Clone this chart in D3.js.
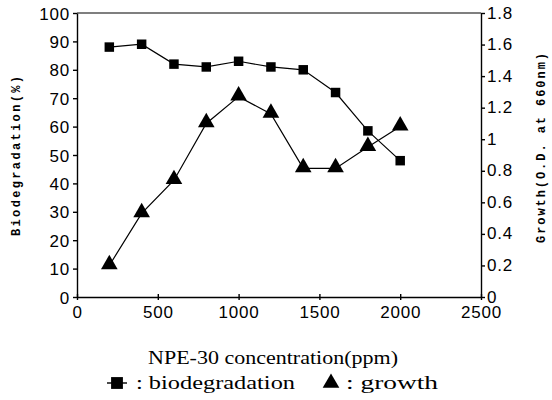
<!DOCTYPE html>
<html><head><meta charset="utf-8">
<script src="https://cdn.jsdelivr.net/npm/d3@7"></script>
<style>
body{margin:0;background:#fff}
.serif{font-family:"Liberation Serif","Times New Roman",serif}
.mono{font-family:"Liberation Mono","DejaVu Sans Mono",monospace;font-weight:bold}
.sans{font-family:"Liberation Sans",Arial,sans-serif}
</style>
</head><body>
<svg id="c" width="552" height="400"></svg>
<script>
const concentrations = [200,400,600,800,1000,1200,1400,1600,1800,2000];
const biodegradation = [88,89,82,81,83,81,80,72,58.5,48];
const growth = [0.20,0.53,0.74,1.10,1.27,1.16,0.815,0.815,0.95,1.08];
const xTicks = [0,500,1000,1500,2000,2500];
const yLeftTicks = [0,10,20,30,40,50,60,70,80,90,100];
const yRightTicks = [0,0.2,0.4,0.6,0.8,1,1.2,1.4,1.6,1.8];

const svg = d3.select("#c");
const L=77,R=481,T=13,B=297;
const x = d3.scaleLinear().domain([0,2500]).range([L,R]);
const yL = d3.scaleLinear().domain([0,100]).range([B,T]);
const yR = d3.scaleLinear().domain([0,1.8]).range([B,T]);

svg.append("line").attr("x1",L).attr("x2",R).attr("y1",T).attr("y2",T).attr("stroke","#000").attr("stroke-width",1.2);

const gx = svg.append("g").attr("transform",`translate(0,${B})`)
  .call(d3.axisBottom(x).tickValues(xTicks).tickFormat(d3.format("d")).tickSize(3).tickPadding(5).tickSizeOuter(0));
const gl = svg.append("g").attr("transform",`translate(${L},0)`)
  .call(d3.axisLeft(yL).tickValues(yLeftTicks).tickFormat(d3.format("d")).tickSize(4).tickPadding(3).tickSizeOuter(0));
const gr = svg.append("g").attr("transform",`translate(${R},0)`)
  .call(d3.axisRight(yR).tickValues(yRightTicks).tickFormat(d=>d3.format("~g")(d)).tickSize(4).tickPadding(2).tickSizeOuter(0));
[gx,gl,gr].forEach(g=>{
  g.attr("font-family",null);
  g.selectAll("text").attr("class","sans").attr("font-size",17).attr("letter-spacing",0.8).attr("fill","#000");
  g.selectAll("path,line").attr("stroke","#000").attr("stroke-width",1.4);
});
gx.selectAll(".tick line").attr("y1",-3);
gx.selectAll("text").attr("dy","0.75em");
gl.selectAll("text").attr("dy","0.36em");
gr.selectAll("text").attr("dy","0.3em");

const lineB = d3.line().x((d,i)=>x(concentrations[i])).y(d=>yL(d));
const lineG = d3.line().x((d,i)=>x(concentrations[i])).y(d=>yR(d));
svg.append("path").attr("d",lineB(biodegradation)).attr("fill","none").attr("stroke","#000").attr("stroke-width",1.2);
svg.append("path").attr("d",lineG(growth)).attr("fill","none").attr("stroke","#000").attr("stroke-width",1.2);

const sq = d3.symbol().type(d3.symbolSquare).size(90);
const tri = d3.symbol().type(d3.symbolTriangle).size(120);
svg.selectAll(".sq").data(biodegradation).join("path")
  .attr("d",sq).attr("transform",(d,i)=>`translate(${x(concentrations[i])},${yL(d)})`).attr("fill","#000");
svg.selectAll(".tr").data(growth).join("path")
  .attr("d",tri).attr("transform",(d,i)=>`translate(${x(concentrations[i])},${yR(d)-1})`).attr("fill","#000");

svg.append("text").attr("class","mono").attr("transform","translate(20,156) rotate(-90)").attr("text-anchor","middle")
  .attr("font-size",12).attr("textLength",160).attr("lengthAdjust","spacing").text("Biodegradation(%)");
svg.append("text").attr("class","mono").attr("transform","translate(545,148) rotate(-90)").attr("text-anchor","middle")
  .attr("font-size",12).attr("textLength",190).attr("lengthAdjust","spacing").text("Growth(O.D. at 660nm)");

svg.append("text").attr("class","serif").attr("x",148).attr("y",364)
  .attr("font-size",18).attr("textLength",250).attr("lengthAdjust","spacingAndGlyphs").text("NPE-30 concentration(ppm)");

const ly = 389;
svg.append("line").attr("x1",107).attr("x2",127).attr("y1",ly-6).attr("y2",ly-6).attr("stroke","#000").attr("stroke-width",1.4);
svg.append("path").attr("d",d3.symbol().type(d3.symbolSquare).size(140)).attr("transform",`translate(117,${ly-6})`);
svg.append("text").attr("class","serif").attr("x",136).attr("y",ly).attr("font-size",18)
  .attr("textLength",159).attr("lengthAdjust","spacingAndGlyphs").text(": biodegradation");
svg.append("path").attr("d",d3.symbol().type(d3.symbolTriangle).size(120)).attr("transform",`translate(331,${ly-6})`);
svg.append("text").attr("class","serif").attr("x",346).attr("y",ly).attr("font-size",18)
  .attr("textLength",92).attr("lengthAdjust","spacingAndGlyphs").text(": growth");
</script>
</body></html>
